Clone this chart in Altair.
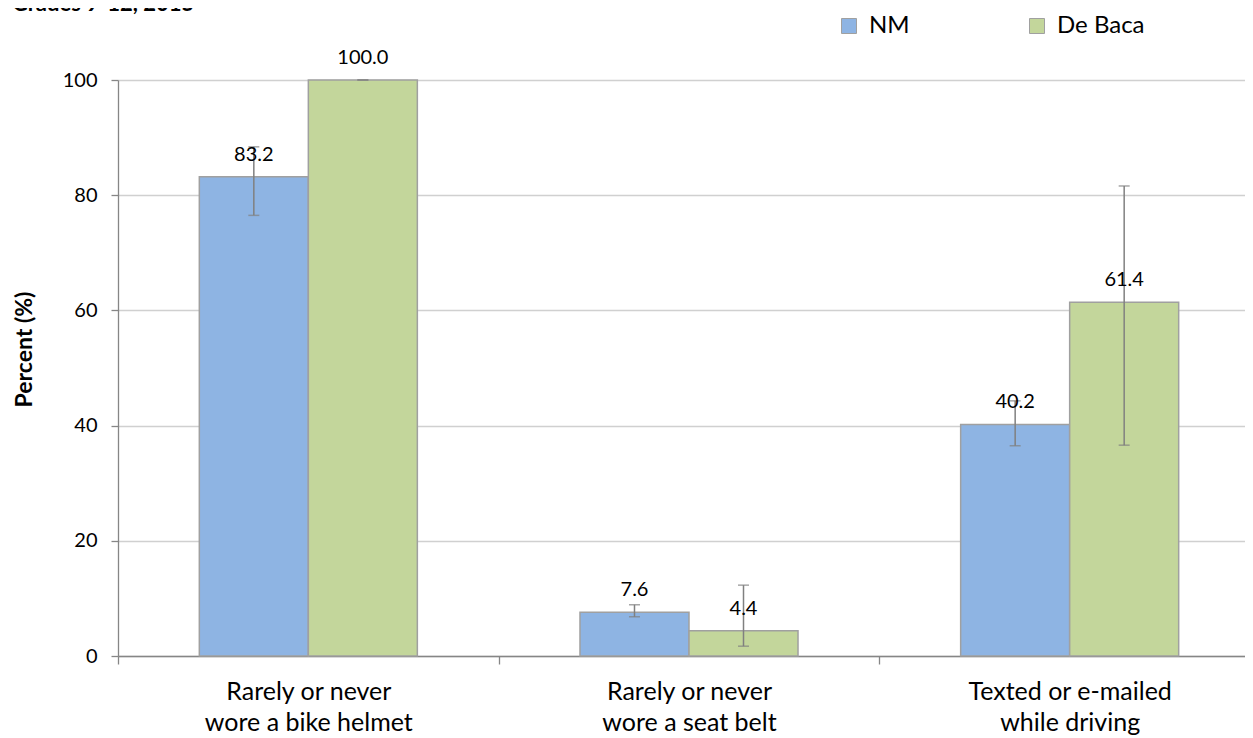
import altair as alt
import pandas as pd

categories = ["Rarely or never|wore a bike helmet", "Rarely or never|wore a seat belt", "Texted or e-mailed|while driving"]
groups = ["NM", "De Baca"]
nm_val = [83.2, 7.6, 40.2]
nm_lo = [76.5, 6.8, 36.5]
nm_hi = [88.4, 8.9, 44.3]
db_val = [100.0, 4.4, 61.4]
db_lo = [100.0, 1.7, 36.6]
db_hi = [100.0, 12.3, 81.6]
colors = ["#8EB4E3", "#C3D69B"]
title_text = ["Grades 9-12, 2015"]

rows = []
for i, c in enumerate(categories):
    rows.append(dict(cat=c, group="NM", value=nm_val[i], lo=nm_lo[i], hi=nm_hi[i]))
    rows.append(dict(cat=c, group="De Baca", value=db_val[i], lo=db_lo[i], hi=db_hi[i]))
df = pd.DataFrame(rows)
df["label"] = df["value"].map(lambda v: f"{v:.1f}")

FONT = "Lato"
W, H = 1127, 576

x = alt.X("cat:N", sort=categories, title=None,
          scale=alt.Scale(range=[0, 1142], paddingInner=0, paddingOuter=0),
          axis=alt.Axis(labelExpr="split(datum.label, '|')", labelAngle=0,
                        labelFontSize=25, labelLineHeight=31, labelColor="#000000",
                        labelFont=FONT, tickBand="extent", tickSize=8, tickColor="#868686",
                        domainColor="#868686", domainWidth=1.3, tickWidth=1.3,
                        labelPadding=15, grid=False, labelBaseline="top", labelLimit=500))
xo = alt.XOffset("group:N", sort=groups,
                 scale=alt.Scale(paddingOuter=0.746, paddingInner=0))
y = alt.Y("value:Q", scale=alt.Scale(domain=[0, 100]), title="Percent (%)",
          axis=alt.Axis(values=[0, 20, 40, 60, 80, 100], labelFontSize=20,
                        labelFont=FONT, labelColor="#000000", labelPadding=14,
                        tickSize=7, tickColor="#868686", domainColor="#868686",
                        domainWidth=1.3, tickWidth=1.3, gridColor="#D0D0D0", gridWidth=1.3,
                        titleFont=FONT, titleFontSize=23, titleFontWeight="bold",
                        titleColor="#000000", titleY=269, titlePadding=26))

base = alt.Chart(df).encode(x=x, xOffset=xo)

bars = base.mark_bar(stroke="#A0A0A0", strokeWidth=1.5).encode(
    y=y,
    color=alt.Color("group:N", sort=groups, scale=alt.Scale(domain=groups, range=colors),
                    legend=alt.Legend(title=None, orient="none", direction="horizontal",
                                      legendX=719, legendY=-66, symbolType="square",
                                      symbolSize=225, symbolStrokeColor="#A0A0A0",
                                      symbolStrokeWidth=1, labelFontSize=24, labelFont=FONT,
                                      labelColor="#000000", labelOffset=8, gridAlign="all",
                                      columnPadding=68, padding=0))
)

err = base.mark_rule(color="#808080", strokeWidth=1.5).encode(y="lo:Q", y2="hi:Q")
cap_lo = base.mark_tick(color="#808080", thickness=1.5, size=11, orient="horizontal").encode(y="lo:Q")
cap_hi = base.mark_tick(color="#808080", thickness=1.5, size=11, orient="horizontal").encode(y="hi:Q")

labels = base.mark_text(font=FONT, fontSize=20, color="#000000", baseline="alphabetic", dy=-16).encode(
    y="value:Q", text="label:N")

title = alt.Chart(pd.DataFrame({"t": title_text})).mark_text(
    font=FONT, fontSize=22, fontWeight="bold", color="#000000", align="left", baseline="alphabetic"
).encode(text="t:N", x=alt.value(-106), y=alt.value(-69))

chart = alt.layer(bars, err, cap_lo, cap_hi, labels, title).properties(
    width=W, height=H,
    autosize=alt.AutoSizeParams(type="none"),
    padding={"left": 110, "top": 72, "right": 0, "bottom": 82},
).configure_view(stroke=None)

chart.save("out.html", embed_options={"renderer": "svg", "actions": False})
